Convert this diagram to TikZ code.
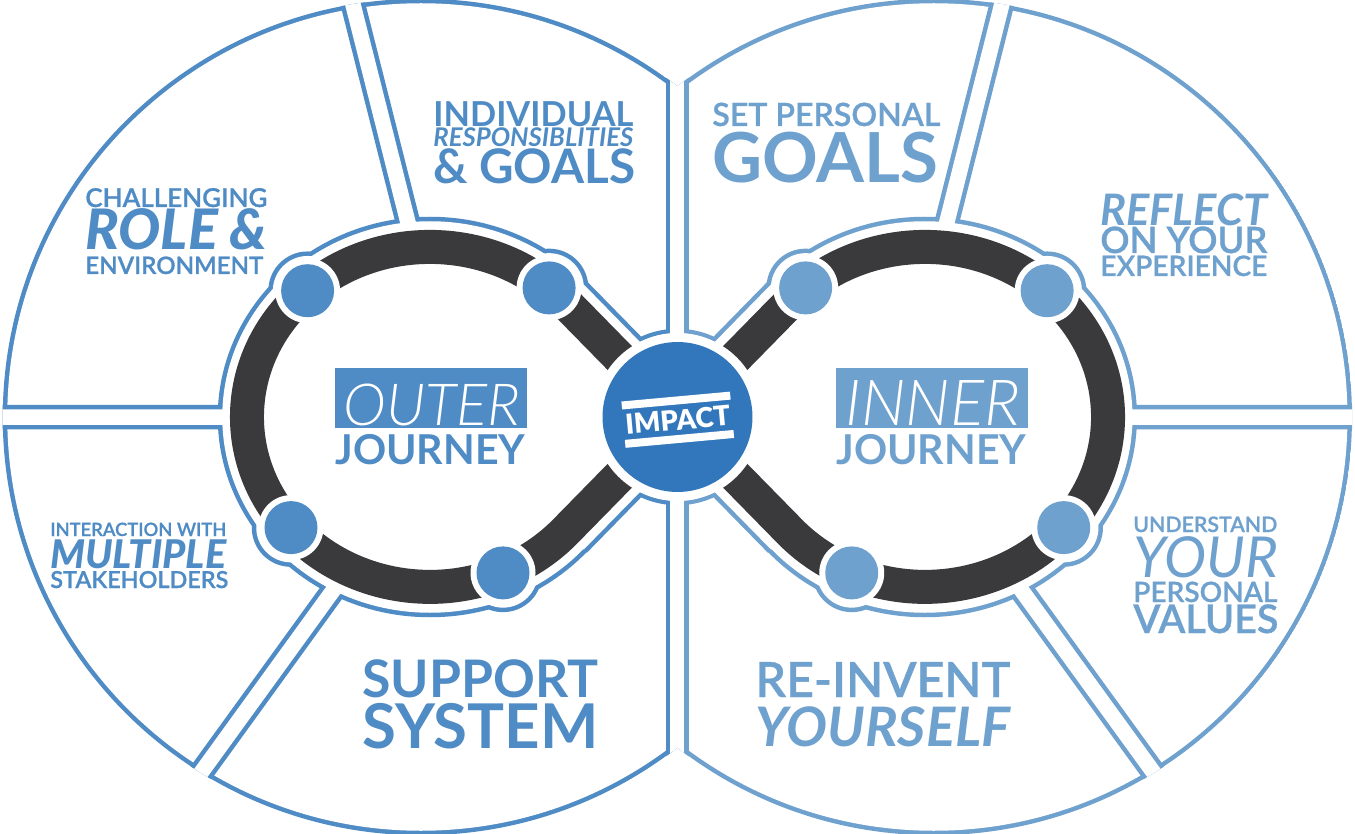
\documentclass[tikz,border=0pt]{standalone}
\usepackage{fontspec}
\setmainfont{Lato}
\IfFontExistsTF{Lato Light}{\newfontfamily\latolight{Lato Light}}{\newfontfamily\latolight{Lato}}
\IfFontExistsTF{Lato Semibold}{\newfontfamily\latosemi{Lato Semibold}[FakeBold=0.8]}{\newfontfamily\latosemi{Lato}[FakeBold=2]}
\IfFontExistsTF{Lato Black}{\newfontfamily\latoblack{Lato Black}}{\newcommand{\latoblack}{\bfseries}}
\usepackage{graphicx}
\definecolor{outerblue}{RGB}{79,139,196}
\definecolor{innerblue}{RGB}{111,161,207}
\definecolor{impactblue}{RGB}{50,119,188}
\definecolor{loopgray}{RGB}{58,58,60}
\newcommand{\fitline}[2]{\resizebox{#1}{!}{#2}}

% cut-outs of one half, grown by #1 px for the outline layer
\newcommand{\cutouts}[1]{%
  \fill (430,417) ellipse[x radius={207.75+#1}, y radius={195.75+#1}];
  \foreach \p in {(307.6,290.7),(549.1,287.9),(291.0,527.6),(503.0,572.9)}
    \fill \p circle[radius={34.75+#1}];
  \fill (677.5,417) circle[radius={83.75+#1}];
  \fill ({670.25-#1},-10) rectangle (700,850);
  \draw[line width={(51.5+2*#1)*0.02cm}] (565.3,302.5) -- (677.5,417) (565.3,531.5) -- (677.5,417);
  \draw[line width={(15.5+2*#1)*0.02cm}] (343.8,-31.8) -- (425,290)
    (-20,417) -- (300,417)
    (170,815.5) -- (345,574);
}

% four panels of one half (left side coordinates)
\newcommand{\panelhalf}[1]{%
  \begin{scope}
    \clip (-10,-10) rectangle (677.5,850);
    \clip (421,417) circle[radius=418.5];
    \fill[#1] (421,417) circle[radius=418.25];
    \fill[white] (421,417) circle[radius=413.75];
    \begin{scope}[#1]\cutouts{4.5}\end{scope}
    \begin{scope}[white]\cutouts{0}\end{scope}
  \end{scope}}

\newcommand{\halfdots}[1]{%
  \foreach \p in {(307.6,290.7),(549.1,287.9),(291.0,527.6),(503.0,572.9)} {
    \fill[white] \p circle[radius=32.5];
    \fill[#1] \p circle[radius=26.5];
  }}

\begin{document}
\begin{tikzpicture}[x=0.02cm, y=-0.02cm,
    lbl/.style={anchor=base west, inner sep=0pt, text=#1},
    title/.style={fill=#1, inner sep=0pt, minimum width=3.84cm, minimum height=1.2cm},
    loopline/.style={line width=0.68cm, draw=loopgray}]
  \useasboundingbox (0,0) rectangle (1355,834);

  % panels
  \panelhalf{outerblue}
  \begin{scope}[xshift=27.1cm, xscale=-1]
    \panelhalf{innerblue}
  \end{scope}

  % infinity loop
  \draw[loopline] (565.3,302.5) arc[start angle=-42.3, end angle=-317.7, x radius=183, y radius=170]
    -- (789.7,302.5) arc[start angle=222.3, end angle=497.7, x radius=183, y radius=170] -- cycle;
  \halfdots{outerblue}
  \begin{scope}[xshift=27.1cm, xscale=-1]
    \halfdots{innerblue}
  \end{scope}

  % impact
  \fill[white] (677.5,417) circle[radius=84];
  \node (impact) [circle, fill=impactblue, minimum size=3cm, inner sep=0pt] at (677.5,417) {};
  \begin{scope}[rotate around={5.2:(677.5,417)}]
    \fill[white] (623,396.5) rectangle (732,404.5);
    \fill[white] (623,435) rectangle (732,443);
    \node (impacttxt) [anchor=base, inner sep=0pt, text=white, rotate=5.2] at (677.5,430)
      {\fitline{2.1cm}{\latoblack IMPACT}};
  \end{scope}

  % outer journey
  \node (outerbox) [title=outerblue] at (431,398) {};
  \node (outertxt) [lbl=white] at (343,425) {\fitline{3.54cm}{\latolight\itshape OUTER}};
  \node (outerjy) [lbl=outerblue] at (335,464) {\fitline{3.8cm}{\bfseries JOURNEY}};
  \node (chal) [lbl=outerblue] at (85,207) {\fitline{3.64cm}{\latosemi CHALLENGING}};
  \node (role) [lbl=outerblue] at (85,250) {\fitline{3.64cm}{\latoblack\itshape ROLE \&}};
  \node (env) [lbl=outerblue] at (85,274) {\fitline{3.56cm}{\latosemi ENVIRONMENT}};
  \node (indiv) [lbl=outerblue] at (433,127) {\fitline{4cm}{\bfseries INDIVIDUAL}};
  \node (resp) [lbl=outerblue] at (433,147) {\fitline{4cm}{\bfseries\itshape RESPONSIBLITIES}};
  \node (igoals) [lbl=outerblue] at (433,184) {\fitline{4.04cm}{\bfseries \& GOALS}};
  \node (inter) [lbl=outerblue] at (50,536) {\fitline{3.52cm}{\latosemi INTERACTION WITH}};
  \node (multi) [lbl=outerblue] at (50,568) {\fitline{3.52cm}{\latoblack\itshape MULTIPLE}};
  \node (stake) [lbl=outerblue] at (50,588) {\fitline{3.56cm}{\latosemi STAKEHOLDERS}};
  \node (supp) [lbl=outerblue] at (362,697) {\fitline{4.72cm}{\bfseries SUPPORT}};
  \node (syst) [lbl=outerblue] at (362,748) {\fitline{4.72cm}{\bfseries SYSTEM}};

  % inner journey
  \node (innerbox) [title=innerblue] at (932,398) {};
  \node (innertxt) [lbl=white] at (845,425) {\fitline{3.5cm}{\latolight\itshape INNER}};
  \node (innerjy) [lbl=innerblue] at (836,464) {\fitline{3.8cm}{\bfseries JOURNEY}};
  \node (setp) [lbl=innerblue] at (712,126) {\fitline{4.56cm}{\latosemi SET PERSONAL}};
  \node (pgoals) [lbl=innerblue] at (712,183) {\fitline{4.52cm}{\bfseries GOALS}};
  \node (refl) [lbl=innerblue] at (1100,226) {\fitline{3.34cm}{\bfseries\itshape REFLECT}};
  \node (onyour) [lbl=innerblue] at (1100,253) {\fitline{3.34cm}{\latosemi ON YOUR}};
  \node (exper) [lbl=innerblue] at (1100,276) {\fitline{3.34cm}{\latosemi EXPERIENCE}};
  \node (under) [lbl=innerblue] at (1133,532) {\fitline{2.88cm}{\latosemi UNDERSTAND}};
  \node (your) [lbl=innerblue] at (1133,577) {\fitline{2.9cm}{\itshape YOUR}};
  \node (pers) [lbl=innerblue] at (1133,602) {\fitline{2.88cm}{\latosemi PERSONAL}};
  \node (vals) [lbl=innerblue] at (1133,633) {\fitline{2.9cm}{\latosemi VALUES}};
  \node (reinv) [lbl=innerblue] at (755,697) {\fitline{5.1cm}{\latosemi RE-INVENT}};
  \node (yself) [lbl=innerblue] at (755,746) {\fitline{5.1cm}{\bfseries\itshape YOURSELF}};
\end{tikzpicture}
\end{document}
